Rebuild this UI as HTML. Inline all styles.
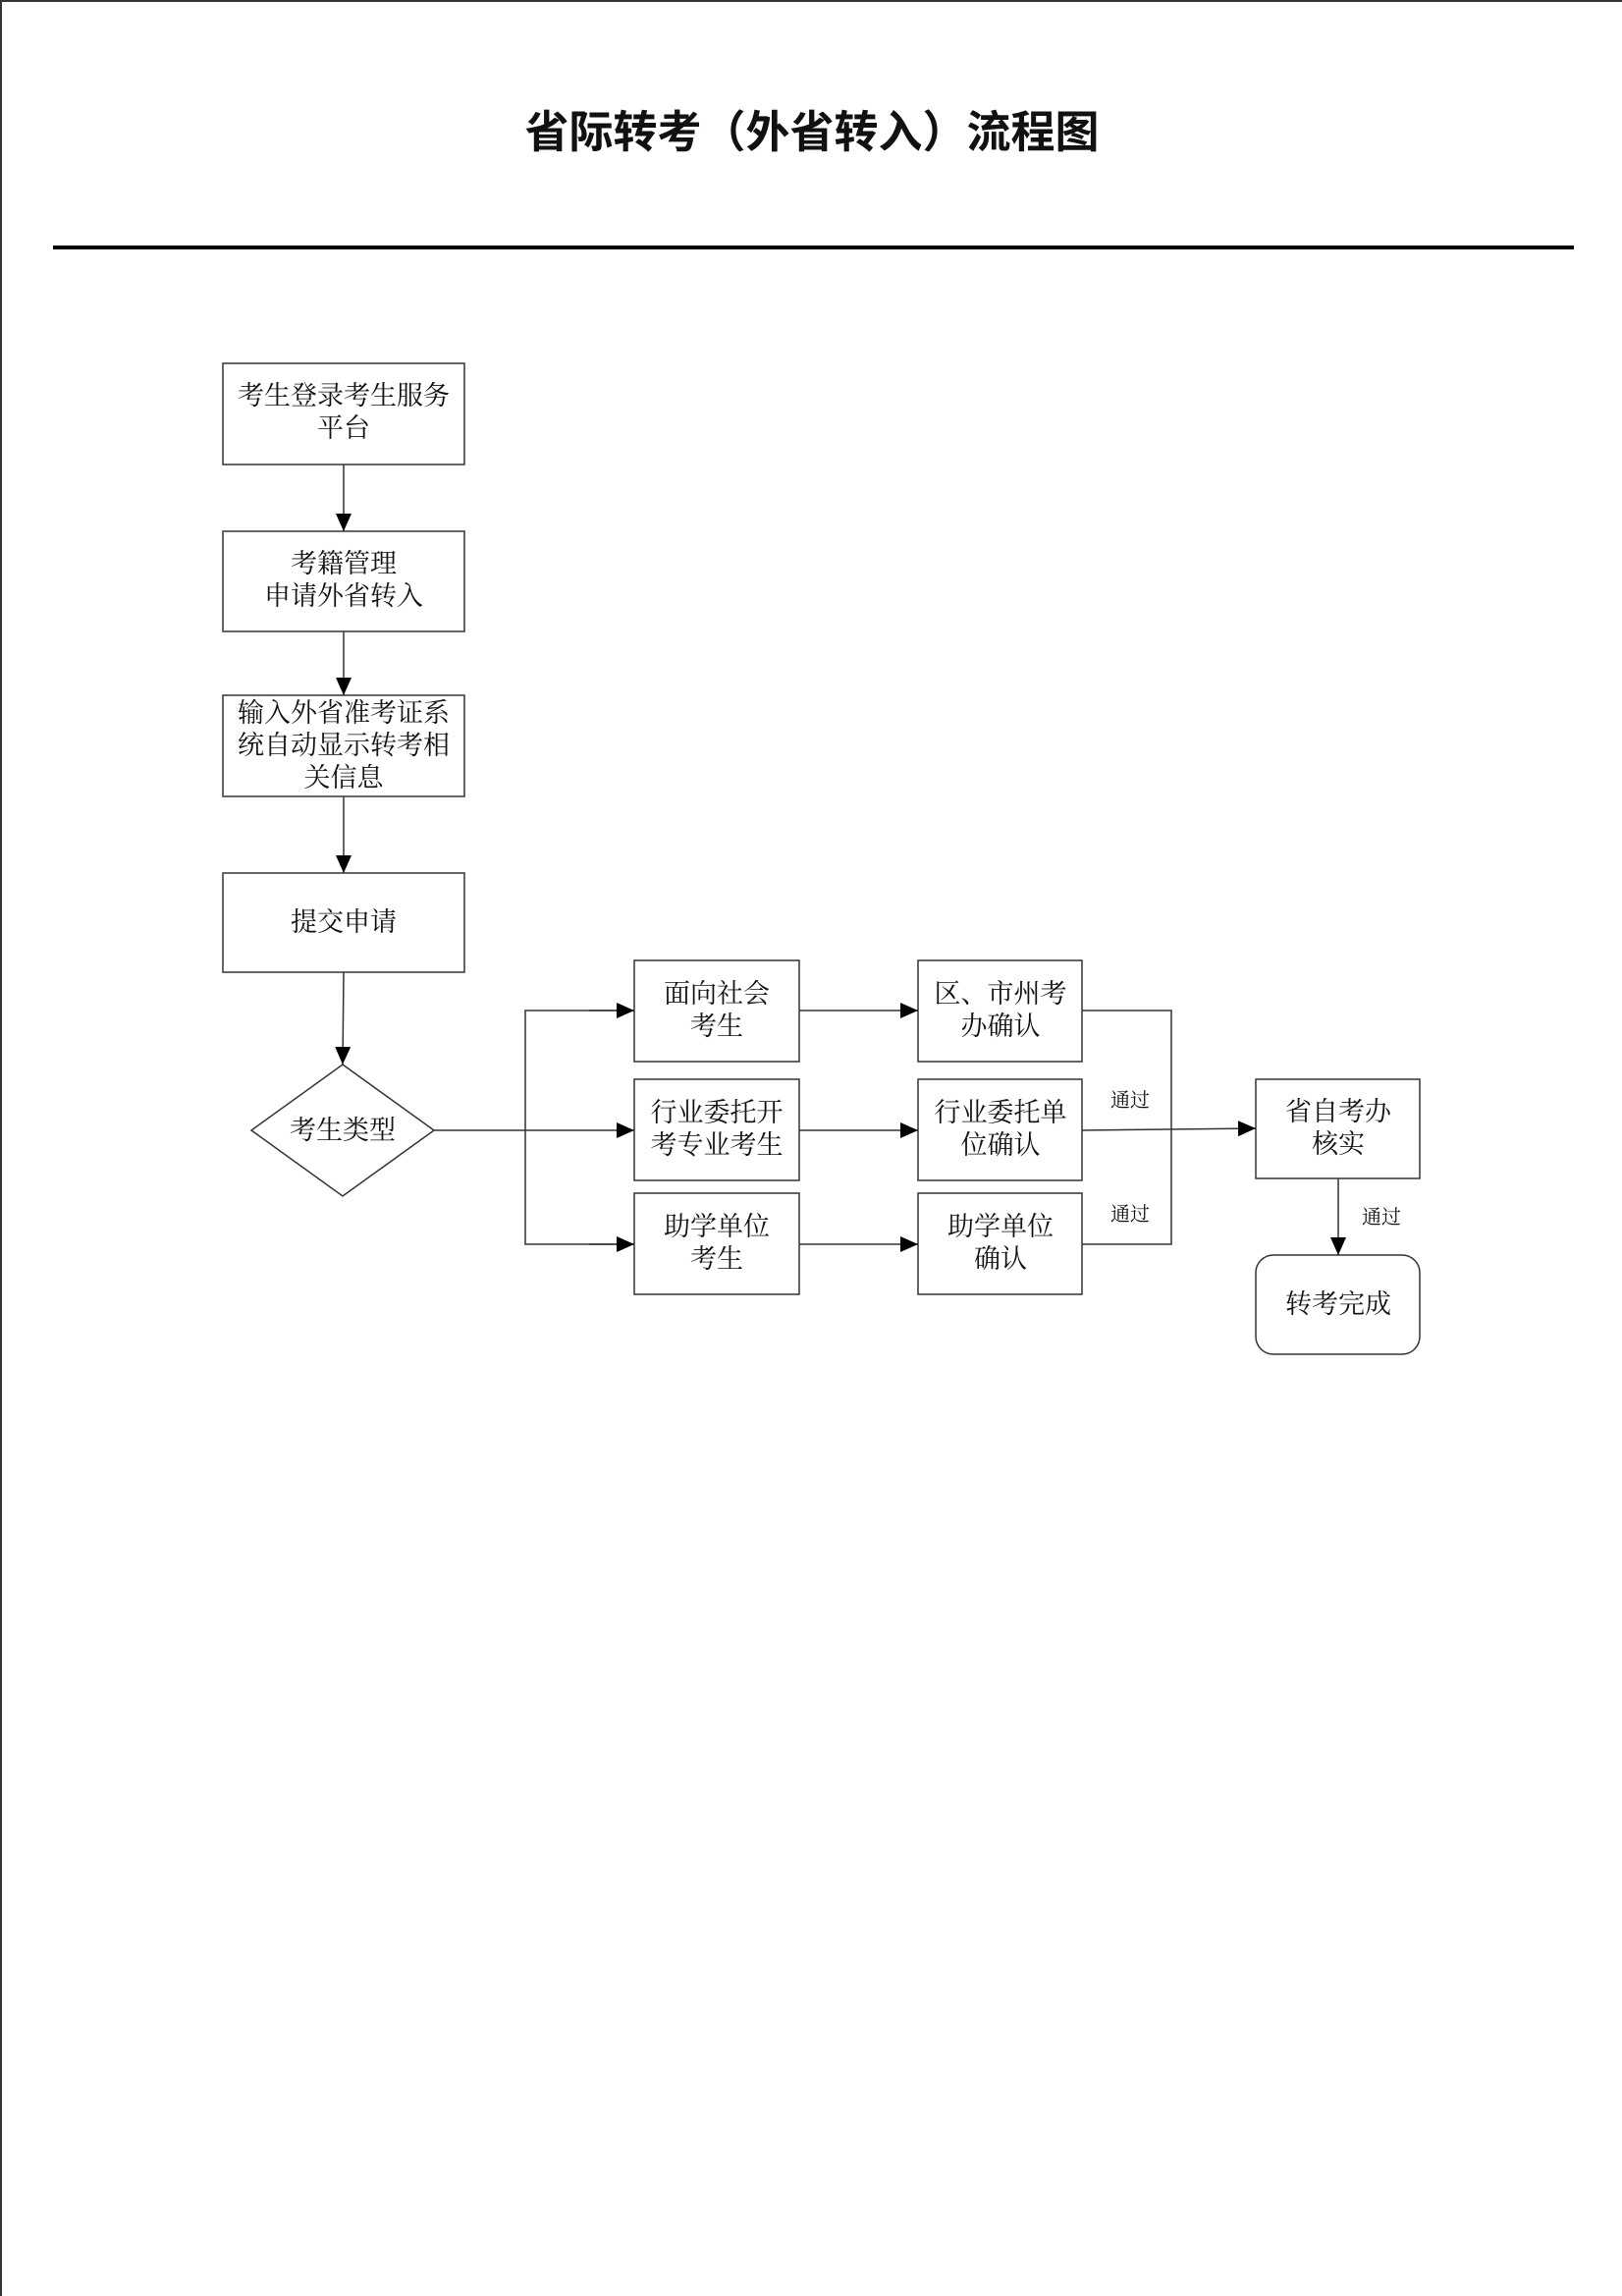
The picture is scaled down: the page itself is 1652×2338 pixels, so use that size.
<!DOCTYPE html>
<html><head><meta charset="utf-8"><style>
html,body{margin:0;padding:0;background:#fff;}
svg{display:block;}
text{font-family:"Liberation Serif","Noto Serif CJK SC",serif;fill:#111;}
</style></head><body>
<svg width="1652" height="2338" viewBox="0 0 1652 2338" xmlns="http://www.w3.org/2000/svg">
<defs><marker id="a" markerWidth="18" markerHeight="16" refX="18" refY="8" orient="auto" markerUnits="userSpaceOnUse"><path d="M0,0 L18,8 L0,16 Z" fill="#000"/></marker></defs>
<line x1="1" y1="0" x2="1" y2="2338" stroke="#333" stroke-width="2"/>
<line x1="0" y1="1" x2="1652" y2="1" stroke="#333" stroke-width="2"/>
<text x="827" y="150" text-anchor="middle" font-size="45" font-weight="bold" style="font-family:'Liberation Sans','Noto Sans CJK SC',sans-serif">省际转考（外省转入）流程图</text>
<line x1="54" y1="252" x2="1603" y2="252" stroke="#000" stroke-width="4"/>
<g fill="#fff" stroke="#333" stroke-width="1.5">
<rect x="227" y="370" width="246" height="103"/>
<rect x="227" y="541" width="246" height="102"/>
<rect x="227" y="708" width="246" height="103"/>
<rect x="227" y="889" width="246" height="101"/>
<polygon points="349,1084 442,1151 349,1218 256,1151"/>
<rect x="646" y="978" width="168" height="103"/>
<rect x="646" y="1099" width="168" height="103"/>
<rect x="646" y="1215" width="168" height="103"/>
<rect x="935" y="978" width="167" height="103"/>
<rect x="935" y="1099" width="167" height="103"/>
<rect x="935" y="1215" width="167" height="103"/>
<rect x="1279" y="1099" width="167" height="101"/>
<rect x="1279" y="1278" width="167" height="101" rx="18"/>
</g>
<g stroke="#333" stroke-width="1.5" fill="none">
<line x1="350" y1="473" x2="350" y2="541" marker-end="url(#a)"/>
<line x1="350" y1="643" x2="350" y2="708" marker-end="url(#a)"/>
<line x1="350" y1="811" x2="350" y2="889" marker-end="url(#a)"/>
<line x1="350" y1="990" x2="349" y2="1084" marker-end="url(#a)"/>
<line x1="442" y1="1151" x2="646" y2="1151" marker-end="url(#a)"/>
<polyline points="646,1029 535,1029 535,1267 646,1267"/>
<line x1="600" y1="1029" x2="646" y2="1029" marker-end="url(#a)"/>
<line x1="600" y1="1267" x2="646" y2="1267" marker-end="url(#a)"/>
<line x1="814" y1="1029" x2="935" y2="1029" marker-end="url(#a)"/>
<line x1="814" y1="1151" x2="935" y2="1151" marker-end="url(#a)"/>
<line x1="814" y1="1267" x2="935" y2="1267" marker-end="url(#a)"/>
<polyline points="1102,1029 1193,1029 1193,1267 1102,1267"/>
<line x1="1102" y1="1151" x2="1279" y2="1149" marker-end="url(#a)"/>
<line x1="1363" y1="1200" x2="1363" y2="1278" marker-end="url(#a)"/>
</g>
<g font-size="27" text-anchor="middle">
<text x="350" y="412">考生登录考生服务</text><text x="350" y="445">平台</text>
<text x="350" y="583">考籍管理</text><text x="350" y="616">申请外省转入</text>
<text x="350" y="735">输入外省准考证系</text><text x="350" y="768">统自动显示转考相</text><text x="350" y="801">关信息</text>
<text x="350" y="948">提交申请</text>
<text x="349" y="1160">考生类型</text>
<text x="730" y="1021">面向社会</text><text x="730" y="1054">考生</text>
<text x="730" y="1142">行业委托开</text><text x="730" y="1175">考专业考生</text>
<text x="730" y="1258">助学单位</text><text x="730" y="1291">考生</text>
<text x="1019" y="1021">区、市州考</text><text x="1019" y="1054">办确认</text>
<text x="1019" y="1142">行业委托单</text><text x="1019" y="1175">位确认</text>
<text x="1019" y="1258">助学单位</text><text x="1019" y="1291">确认</text>
<text x="1363" y="1141">省自考办</text><text x="1363" y="1174">核实</text>
<text x="1363" y="1337">转考完成</text>
</g>
<g font-size="20" text-anchor="middle">
<text x="1151" y="1127">通过</text>
<text x="1151" y="1243">通过</text>
<text x="1407" y="1246">通过</text>
</g>
</svg>
</body></html>
